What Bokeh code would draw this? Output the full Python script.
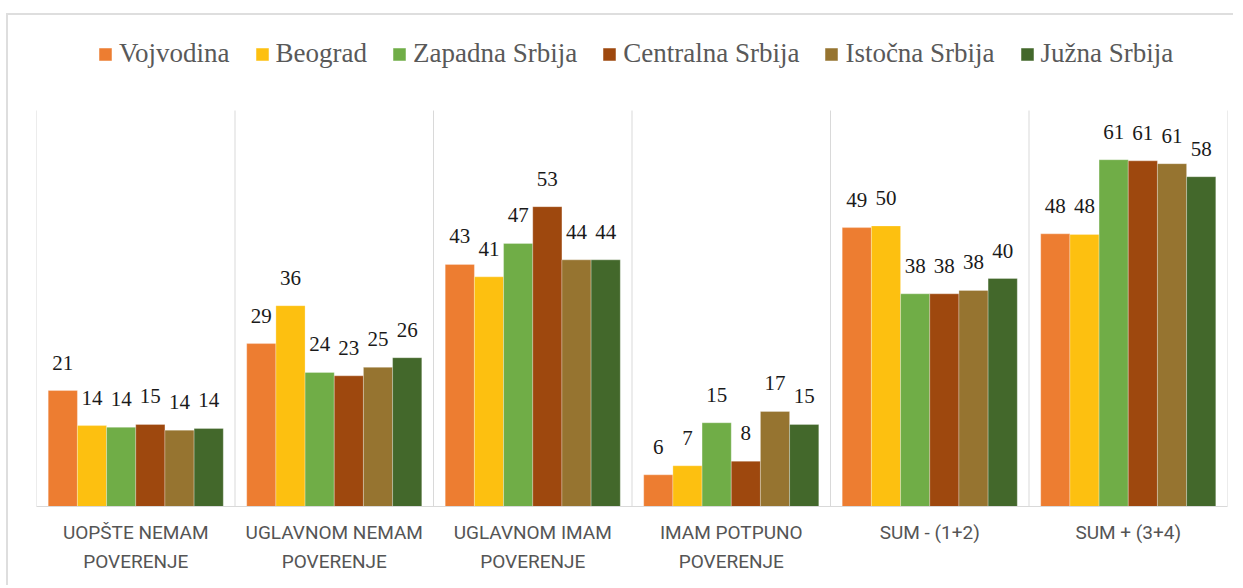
import math
from bokeh.plotting import figure
from bokeh.models import (ColumnDataSource, Range1d, FixedTicker, CustomJSTickFormatter,
                          Legend, LegendItem)
from bokeh.core.properties import value
from bokeh.embed import file_html
from bokeh.resources import INLINE

categories = ["UOPŠTE NEMAM\nPOVERENJE", "UGLAVNOM NEMAM\nPOVERENJE", "UGLAVNOM IMAM\nPOVERENJE",
              "IMAM POTPUNO\nPOVERENJE", "SUM - (1+2)", "SUM + (3+4)"]
series_names = ["Vojvodina", "Beograd", "Zapadna Srbija", "Centralna Srbija", "Istočna Srbija", "Južna Srbija"]
vojvodina = [20.5, 28.8, 42.8, 5.6, 49.3, 48.2]
beograd = [14.3, 35.5, 40.6, 7.2, 49.6, 48.1]
zapadna = [14.0, 23.7, 46.5, 14.8, 37.6, 61.3]
centralna = [14.5, 23.1, 53.0, 8.0, 37.6, 61.1]
istocna = [13.5, 24.6, 43.6, 16.8, 38.2, 60.6]
juzna = [13.8, 26.3, 43.6, 14.5, 40.3, 58.3]
series_values = [vojvodina, beograd, zapadna, centralna, istocna, juzna]
colors = ["#ED7D31", "#FDC010", "#70AD47", "#9E480E", "#967430", "#43682B"]
value_axis_max = 70

n = len(categories)
bar_w = 0.147
p = figure(width=1227, height=572, output_backend="svg", toolbar_location=None,
           x_range=Range1d(0, n), y_range=Range1d(0, 85.56), y_axis_location=None,
           min_border_left=28, min_border_right=8, min_border_top=7, min_border_bottom=81,
           styles={"margin-left": "6px", "margin-top": "13px",
                   "border-left": "2px solid #dedede", "border-top": "2px solid #dedede"})
p.outline_line_color = None
p.background_fill_color = "white"
p.ygrid.visible = False
p.xgrid.visible = False

# category separators
p.segment(x0=list(range(n + 1)), y0=[0] * (n + 1), x1=list(range(n + 1)),
          y1=[value_axis_max] * (n + 1), line_color="#d9d9d9", line_width=1)

p.xaxis.ticker = FixedTicker(ticks=[i + 0.5 for i in range(n)])
p.xaxis.formatter = CustomJSTickFormatter(args=dict(labels=categories),
                                          code="return labels[Math.floor(tick)];")
p.xaxis.axis_line_color = "#d9d9d9"
p.xaxis.axis_line_width = 1
p.xaxis.major_tick_line_color = None
p.xaxis.minor_tick_line_color = None
p.xaxis.major_label_standoff = 8
p.xaxis.major_label_text_font = "Roboto"
p.xaxis.major_label_text_font_size = "19px"
p.xaxis.major_label_text_color = "#555555"
p.xaxis.major_label_text_line_height = 1.28

items = []
for k, (name, vals, col) in enumerate(zip(series_names, series_values, colors)):
    off = (k - 2.5) * bar_w
    xs = [i + 0.5 + off for i in range(n)]
    src = ColumnDataSource(dict(x=xs, top=vals,
                                lab=[str(math.floor(v + 0.5)) for v in vals]))
    r = p.vbar(x="x", top="top", width=bar_w, bottom=0, source=src,
               fill_color=col, line_color="#ffffff", line_alpha=0.35, line_width=0.8)
    p.text(x="x", y="top", text="lab", source=src, text_align="center",
           text_baseline="alphabetic", y_offset=-28, text_font=value("Liberation Serif"),
           text_font_size="21px", text_color="#1a1a1a")
    items.append(LegendItem(label=name, renderers=[r]))

legend = Legend(items=items, orientation="horizontal", location=(61, 437),
                label_text_font="Liberation Serif", label_text_font_size="27px",
                label_text_color="#595959", glyph_width=16, glyph_height=16,
                label_standoff=6, spacing=24, padding=0, margin=0,
                background_fill_alpha=0, border_line_alpha=0)
p.add_layout(legend, "center")

open("out.html", "w").write(file_html(p, INLINE))
